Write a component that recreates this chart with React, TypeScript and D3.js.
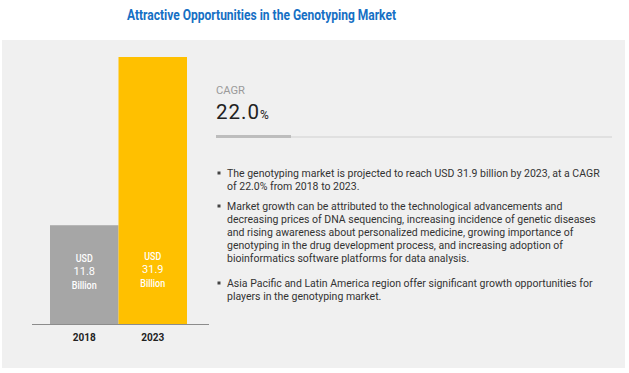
import React from 'react';
import * as d3 from 'd3';

const years = ['2018', '2023'];
const values = [11.8, 31.9];
const barColors = ['#a6a6a6', '#ffc000'];
const cagr = '22.0';

const bullets = [
    [
        'The genotyping market is projected to reach USD 31.9 billion by 2023, at a CAGR',
        'of 22.0% from 2018 to 2023.',
    ],
    [
        'Market growth can be attributed to the technological advancements and',
        'decreasing prices of DNA sequencing, increasing incidence of genetic diseases',
        'and rising awareness about personalized medicine, growing importance of',
        'genotyping in the drug development process, and increasing adoption of',
        'bioinformatics software platforms for data analysis.',
    ],
    [
        'Asia Pacific and Latin America region offer significant growth opportunities for',
        'players in the genotyping market.',
    ],
];

const W = 629,
    H = 373;
const chart = { left: 50, right: 187, top: 57, bottom: 324 };
const font = "'Roboto', 'Liberation Sans', sans-serif";

export default function App() {
    const x = d3.scaleBand().domain(years).range([chart.left, chart.right]).padding(0);
    const y = d3.scaleLinear().domain([0, 31.9]).range([chart.bottom, chart.top]);

    const lineH = 13;
    const bulletStarts = [173, 206, 283];
    // label baselines inside bars (first line), per bar
    const labelY = [262, 260];

    return (
        <div style={{ position: 'absolute', left: 0, top: 0 }}>
            <svg width={W} height={H} style={{ display: 'block' }}>
                <rect x={0} y={0} width={W} height={H} fill="#ffffff" />
                <text
                    x={127}
                    y={20}
                    fontFamily={font}
                    fontWeight="bold"
                    fontSize={14.5}
                    fill="#1670c4"
                    textLength={269}
                    lengthAdjust="spacingAndGlyphs"
                >
                    Attractive Opportunities in the Genotyping Market
                </text>
                <rect x={2} y={40} width={623} height={328} fill="#f0f0f0" />

                {years.map((yr, i) => {
                    const bx = x(yr) as number;
                    const top = y(values[i]);
                    const cx = bx + x.bandwidth() / 2;
                    const ly = labelY[i];
                    return (
                        <g key={yr}>
                            <rect x={bx} y={top} width={x.bandwidth()} height={chart.bottom - top} fill={barColors[i]} />
                            <g fontFamily={font} fontSize={11} fill="#ffffff" textAnchor="middle">
                                <text x={cx} y={ly} fontWeight="500" textLength={17} lengthAdjust="spacingAndGlyphs">
                                    USD
                                </text>
                                <text x={cx} y={ly + 13}>{values[i].toFixed(1)}</text>
                                <text x={cx} y={ly + 27} fontWeight="500" textLength={25} lengthAdjust="spacingAndGlyphs">
                                    Billion
                                </text>
                            </g>
                            <text
                                x={cx}
                                y={341}
                                textAnchor="middle"
                                fontFamily={font}
                                fontWeight="bold"
                                fontSize={11}
                                fill="#222"
                                textLength={23}
                                lengthAdjust="spacingAndGlyphs"
                            >
                                {yr}
                            </text>
                        </g>
                    );
                })}
                <line x1={32} x2={209} y1={chart.bottom + 0.5} y2={chart.bottom + 0.5} stroke="#8c8c8c" strokeWidth={1} />

                <text x={216} y={94} fontFamily={font} fontSize={11.5} fill="#9a9a9a" textLength={29} lengthAdjust="spacingAndGlyphs">
                    CAGR
                </text>
                <text x={216} y={119} fontFamily={font} fontSize={20.5} fill="#222" letterSpacing={1}>
                    {cagr}
                    <tspan fontSize={12} letterSpacing={0}>%</tspan>
                </text>
                <line x1={291} x2={612} y1={137} y2={137} stroke="#d0d0d0" strokeWidth={1} />
                <line x1={216} x2={291} y1={136.5} y2={136.5} stroke="#bdbdbd" strokeWidth={3} />

                {bullets.map((lines, bi) => (
                    <g key={bi}>
                        <rect x={217.5} y={bulletStarts[bi] - 1.5} width={3} height={3} fill="#444" />
                        {lines.map((ln, li) => (
                            <text
                                key={li}
                                x={227}
                                y={bulletStarts[bi] + li * lineH + 3.5}
                                fontFamily={font}
                                fontSize={10.5}
                                fill="#333"
                            >
                                {ln}
                            </text>
                        ))}
                    </g>
                ))}
            </svg>
        </div>
    );
}
